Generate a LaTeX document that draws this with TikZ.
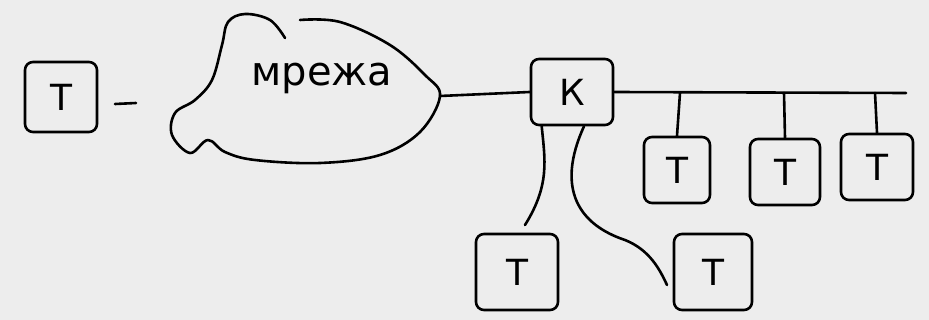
\documentclass[tikz,border=0pt]{standalone}
\usepackage{fontspec}
\setmainfont{DejaVu Sans}
\begin{document}
\begin{tikzpicture}[x=1pt,y=-1pt,line width=2.6pt,line cap=round,line join=round,
  termbox/.style={draw,rounded corners=8pt,minimum width=66pt,minimum height=66pt,inner sep=0pt,font=\fontsize{36}{38}\selectfont},
  wire/.style={draw}]
\fill[black!7] (0,0) rectangle (929,320);
\useasboundingbox (0,0) rectangle (929,320);
% left terminal
\node[termbox,minimum width=72pt,minimum height=70pt] (t0) at (61,97) {Т};
% dash
\coordinate (d1) at (115,104);
\coordinate (d2) at (136,103);
\draw (d1) -- (d2);
% cloud
\draw plot[smooth,tension=0.6] coordinates {(285,38) (270,20) (245,14) (228,22) (222,45) (212,80) (195,100) (175,113) (172,135) (190,153) (208,140) (225,152) (255,160) (320,163) (380,155) (420,132) (440,96) (425,75) (390,45) (340,22) (300,20)};
\node[font=\fontsize{40}{42}\selectfont] (net) at (322,78) {мрежа};
\coordinate (netE) at (440,96);
% concentrator
\node[termbox,minimum width=82pt,minimum height=66pt] (k) at (572,92) {К};
\draw (netE) -- (k.west);
% bus
\coordinate (bus1) at (k.east);
\coordinate (bus2) at (906,93);
\draw (bus1) -- (bus2);
% bus terminals
\node[termbox] (t1) at (677,170) {Т};
\node[termbox,minimum width=70pt] (t2) at (785,172) {Т};
\node[termbox,minimum width=72pt] (t3) at (877,167) {Т};
\draw (680,93) -- (t1.north);
\draw (784,93) -- (t2.north);
\draw (875,93) -- (t3.north);
% star terminals
\node[termbox,minimum width=82pt,minimum height=76pt] (t4) at (517,272) {Т};
\node[termbox,minimum width=78pt,minimum height=76pt] (t5) at (713,272) {Т};
\draw (k.south west) ++(12,0) .. controls (545,160) and (550,185) .. (525,225);
\draw (k.south) ++(12,0) .. controls (555,190) and (580,225) .. (625,240) .. controls (650,250) and (660,270) .. (667,285);
\end{tikzpicture}
\end{document}
